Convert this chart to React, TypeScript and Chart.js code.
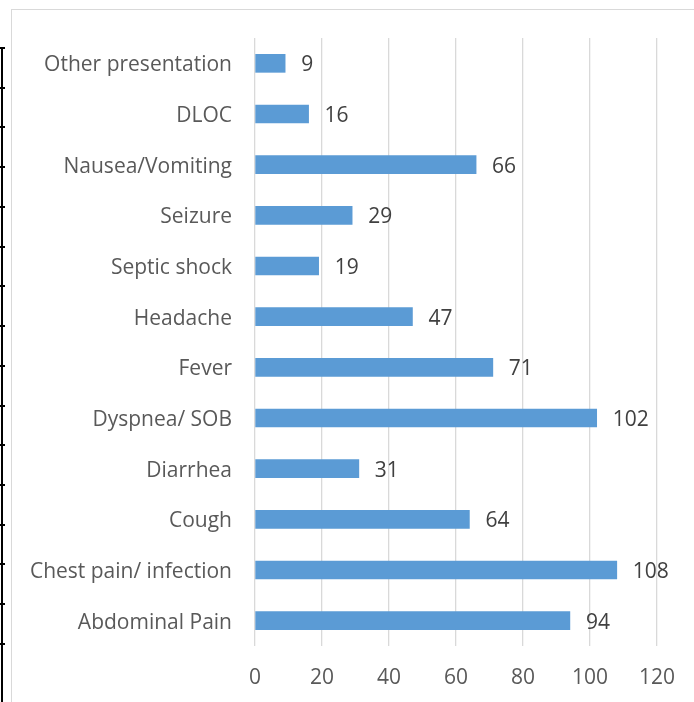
import React, { useEffect, useRef } from "react";
import { Chart, registerables } from "chart.js";

Chart.register(...registerables);

const categories = [
  "Other presentation",
  "DLOC",
  "Nausea/Vomiting",
  "Seizure",
  "Septic shock",
  "Headache",
  "Fever",
  "Dyspnea/ SOB",
  "Diarrhea",
  "Cough",
  "Chest pain/ infection",
  "Abdominal Pain",
];
const counts = [9, 16, 66, 29, 19, 47, 71, 102, 31, 64, 108, 94];
const xTicks = [0, 20, 40, 60, 80, 100, 120];

const FONT = "'Open Sans', sans-serif";

const valueLabels = {
  id: "valueLabels",
  afterDatasetsDraw(chart: any) {
    const ctx = chart.ctx;
    const meta = chart.getDatasetMeta(0);
    ctx.save();
    ctx.font = `21px ${FONT}`;
    ctx.fillStyle = "#404040";
    ctx.textAlign = "left";
    ctx.textBaseline = "middle";
    meta.data.forEach((bar: any, i: number) => {
      ctx.fillText(String(counts[i]), bar.x + 16, bar.y + 2);
    });
    ctx.restore();
  },
};

export default function App() {
  const ref = useRef<HTMLCanvasElement | null>(null);

  useEffect(() => {
    document.body.style.margin = "0";
    const canvas = ref.current;
    if (!canvas) return;
    const chart = new Chart(canvas, {
      type: "bar",
      data: {
        labels: categories,
        datasets: [
          {
            data: counts,
            backgroundColor: "#5B9BD5",
            borderWidth: 0,
            barThickness: 18,
          },
        ],
      },
      options: {
        indexAxis: "y",
        animation: false,
        responsive: false,
        maintainAspectRatio: false,
        devicePixelRatio: 1,
        layout: { padding: { left: 0, top: 38, right: 37, bottom: 0 } },
        plugins: {
          legend: { display: false },
          tooltip: { enabled: false },
        },
        scales: {
          x: {
            min: 0,
            max: 120,
            afterBuildTicks: (scale: any) => {
              scale.ticks = xTicks.map((v) => ({ value: v }));
            },
            afterFit: (scale: any) => {
              scale.height = 56;
            },
            grid: {
              color: "#D9D9D9",
              lineWidth: 1.3,
              drawTicks: false,
            },
            border: { display: false },
            ticks: {
              padding: 19,
              color: "#595959",
              font: { family: FONT, size: 21 },
            },
          },
          y: {
            afterFit: (scale: any) => {
              scale.width = 255;
            },
            grid: { display: false, drawTicks: false },
            border: { display: false },
            ticks: {
              padding: 23,
              labelOffset: 2,
              color: "#595959",
              font: { family: FONT, size: 21 },
            },
          },
        },
      },
      plugins: [valueLabels],
    });
    return () => chart.destroy();
  }, []);

  const stubs = Array.from({ length: 16 }, (_, i) => 48 + i * 39.73);

  return (
    <div style={{ position: "relative", width: 694, height: 702, background: "#fff", overflow: "hidden" }}>
      <canvas ref={ref} width={694} height={702} style={{ position: "absolute", left: 0, top: 0 }} />
      <div style={{ position: "absolute", left: 11, top: 9, width: 700, height: 710, borderLeft: "1.5px solid #D9D9D9", borderTop: "1.5px solid #D9D9D9", boxSizing: "border-box" }} />
      <div style={{ position: "absolute", left: 1, top: 47, width: 2, height: 660, background: "#000" }} />
      {stubs.map((y, i) => (
        <div key={i} style={{ position: "absolute", left: 0, top: Math.round(y) - 1, width: 5, height: 2, background: "#000" }} />
      ))}
    </div>
  );
}
